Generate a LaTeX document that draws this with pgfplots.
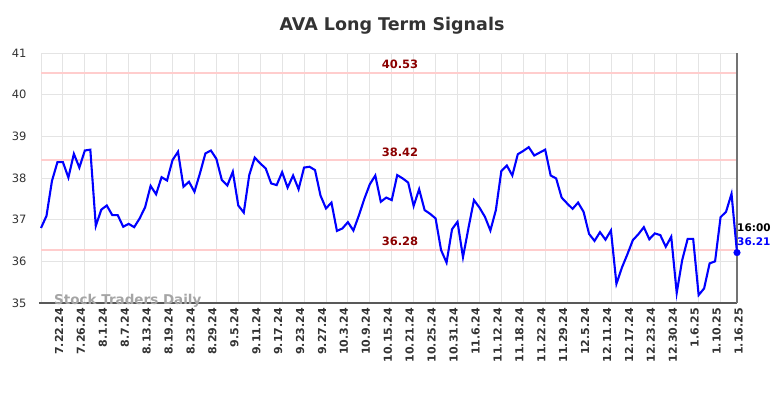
\documentclass[border=0pt]{standalone}
\usepackage{pgfplots}
\pgfplotsset{compat=1.18}
\usepackage{pgfplotstable}
\usepackage{fontspec}
\setmainfont{DejaVu Sans}
\definecolor{gridc}{RGB}{228,228,228}
\definecolor{lvl}{RGB}{255,205,205}
\definecolor{lvltxt}{RGB}{139,0,0}
\definecolor{txt}{RGB}{51,51,51}
\definecolor{wm}{RGB}{165,165,165}

\pgfplotstableread{
x y
0 36.80
1 37.09
2 37.93
3 38.38
4 38.38
5 38.01
6 38.58
7 38.25
8 38.66
9 38.68
10 36.85
11 37.24
12 37.34
13 37.11
14 37.11
15 36.83
16 36.90
17 36.82
18 37.03
19 37.30
20 37.81
21 37.61
22 38.02
23 37.94
24 38.43
25 38.63
26 37.79
27 37.91
28 37.67
29 38.11
30 38.59
31 38.66
32 38.46
33 37.95
34 37.82
35 38.15
36 37.34
37 37.17
38 38.07
39 38.49
40 38.35
41 38.23
42 37.87
43 37.83
44 38.14
45 37.77
46 38.06
47 37.73
48 38.25
49 38.27
50 38.19
51 37.58
52 37.27
53 37.41
54 36.73
55 36.79
56 36.94
57 36.74
58 37.10
59 37.50
60 37.85
61 38.06
62 37.43
63 37.53
64 37.47
65 38.07
66 37.99
67 37.89
68 37.33
69 37.73
70 37.23
71 37.14
72 37.03
73 36.27
74 35.97
75 36.77
76 36.95
77 36.10
78 36.80
79 37.47
80 37.29
81 37.07
82 36.74
83 37.23
84 38.17
85 38.30
86 38.06
87 38.57
88 38.65
89 38.74
90 38.54
91 38.61
92 38.68
93 38.06
94 37.99
95 37.53
96 37.39
97 37.26
98 37.41
99 37.19
100 36.66
101 36.49
102 36.70
103 36.52
104 36.74
105 35.46
106 35.85
107 36.17
108 36.51
109 36.65
110 36.82
111 36.53
112 36.67
113 36.63
114 36.35
115 36.59
116 35.24
117 36.03
118 36.54
119 36.54
120 35.19
121 35.35
122 35.95
123 36.00
124 37.06
125 37.19
126 37.62
127 36.21
}\prices

\begin{document}
\begin{tikzpicture}
\begin{axis}[
  at={(0pt,0pt)}, anchor=south west,
  scale only axis, width=696pt, height=250pt,
  xmin=0, xmax=127, ymin=35, ymax=41,
  clip=false,
  xtick={0,4,...,124},
  xticklabels={7.22.24,7.26.24,8.1.24,8.7.24,8.13.24,8.19.24,8.23.24,8.29.24,9.5.24,9.11.24,9.17.24,9.23.24,9.27.24,10.3.24,10.9.24,10.15.24,10.21.24,10.25.24,10.31.24,11.6.24,11.12.24,11.18.24,11.22.24,11.29.24,12.5.24,12.11.24,12.17.24,12.23.24,12.30.24,1.6.25,1.10.25,1.16.25},
  ytick={35,36,...,41},
  /pgf/number format/assume math mode=true,
  grid=major,
  major grid style={draw=gridc, line width=0.9pt},
  major tick length=0pt,
  axis line style={draw=none},
  xticklabel style={rotate=90, anchor=east, yshift=-18pt, xshift=-1.5pt, text=txt, font=\fontsize{11}{13}\selectfont\bfseries},
  yticklabel style={xshift=-11pt, text=txt, font=\fontsize{11.5}{13}\selectfont},
]
\addplot[lvl, line width=2pt] coordinates {(0,40.53) (127,40.53)};
\addplot[lvl, line width=2pt] coordinates {(0,38.42) (127,38.42)};
\addplot[lvl, line width=2pt] coordinates {(0,36.28) (127,36.28)};
\draw[color=black!65, line width=1.3pt] (rel axis cs:-0.003,0) -- (rel axis cs:1,0);
\draw[color=black!55, line width=2pt] (rel axis cs:1,0) -- (rel axis cs:1,1);
\addplot[blue, line width=2.1pt] table[x=x, y=y] {\prices};
\addplot[only marks, mark=*, mark size=3.3pt, blue] coordinates {(127,36.21)};
\node[anchor=south, inner sep=0pt, yshift=3.5pt, text=lvltxt, font=\fontsize{11.5}{13}\selectfont\bfseries] at (axis cs:65.5,40.53) {40.53};
\node[anchor=south, inner sep=0pt, yshift=3.5pt, text=lvltxt, font=\fontsize{11.5}{13}\selectfont\bfseries] at (axis cs:65.5,38.42) {38.42};
\node[anchor=south, inner sep=0pt, yshift=3.5pt, text=lvltxt, font=\fontsize{11.5}{13}\selectfont\bfseries] at (axis cs:65.5,36.28) {36.28};
\node[anchor=west, inner sep=0pt, yshift=25pt, text=black, font=\fontsize{10.5}{12}\selectfont\bfseries] at (axis cs:127,36.21) {16:00};
\node[anchor=west, inner sep=0pt, yshift=11pt, text=blue, font=\fontsize{10.5}{12}\selectfont\bfseries] at (axis cs:127,36.21) {36.21};
\end{axis}
\node[anchor=base west, inner sep=0pt, text=wm, font=\fontsize{13.5}{15}\selectfont\bfseries] at (13pt,-2pt) {Stock Traders Daily};
\node[inner sep=0pt, text=txt, font=\fontsize{17.5}{20}\selectfont\bfseries] at (351pt,277pt) {AVA Long Term Signals};
\pgfresetboundingbox
\path (-41pt,-95pt) rectangle (743pt,303pt);
\end{tikzpicture}
\end{document}
